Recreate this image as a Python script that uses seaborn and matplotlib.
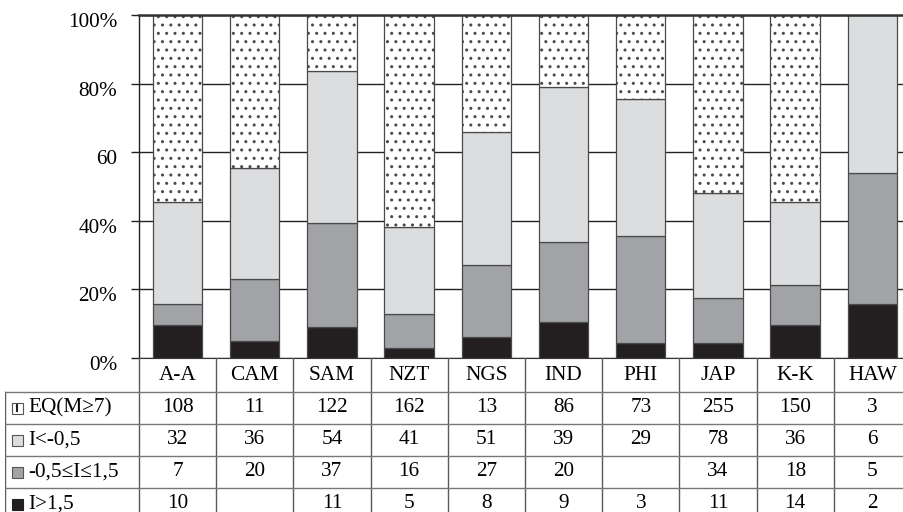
import matplotlib
matplotlib.use("Agg")
import matplotlib.pyplot as plt
import matplotlib.transforms as mtransforms
from matplotlib.patches import Rectangle
from matplotlib.lines import Line2D
import seaborn as sns

# categories and series (bar heights in %)
cats = ['A-A', 'CAM', 'SAM', 'NZT', 'NGS', 'IND', 'PHI', 'JAP', 'K-K', 'HAW']
pct_hi = [9.5, 5.1, 9.0, 3.0, 6.0, 10.4, 4.4, 4.4, 9.5, 15.6]       # I>1,5
pct_mid = [6.3, 18.0, 30.4, 9.8, 21.0, 23.5, 31.1, 13.1, 11.9, 38.2]  # -0,5<=I<=1,5
pct_lo = [29.6, 32.2, 44.3, 25.4, 39.0, 45.0, 40.0, 30.6, 24.0, 46.2]  # I<-0,5
pct_eq = [54.6, 44.7, 16.3, 61.8, 34.0, 21.1, 24.5, 51.9, 54.6, 0.0]   # EQ

# table counts
row_labels = ['EQ(M\u22657)', 'I<-0,5', '-0,5\u2264I\u22641,5', 'I>1,5']
n_eq = ['108', '11', '122', '162', '13', '86', '73', '255', '150', '3']
n_lo = ['32', '36', '54', '41', '51', '39', '29', '78', '36', '6']
n_mid = ['7', '20', '37', '16', '27', '20', '', '34', '18', '5']
n_hi = ['10', '', '11', '5', '8', '9', '3', '11', '14', '2']
yticks = [0, 20, 40, 60, 80, 100]
ytick_labels = ['0%', '20%', '40%', '60', '80%', '100%']

plt.rcParams['font.family'] = ['Liberation Serif', 'DejaVu Serif']
plt.rcParams['hatch.linewidth'] = 1.0
FS = 15.3

W, H = 904, 512
fig = plt.figure(figsize=(W / 100, H / 100), dpi=100)

# ---- bar chart ----
ax_l, ax_r, ax_t, ax_b = 138.9, 911.0, 15.0, 358.0
ax = fig.add_axes([ax_l / W, (H - ax_b) / H, (ax_r - ax_l) / W, (ax_b - ax_t) / H])

c_hi, c_mid, c_lo = '#231f20', '#a2a3a6', '#dcdddf'
edge = '#4a4a4a'
bottom = [0.0] * len(cats)
for vals, col, hatch in [(pct_hi, c_hi, None), (pct_mid, c_mid, None),
                         (pct_lo, c_lo, None), (pct_eq, 'white', '..')]:
    sns.barplot(x=cats, y=vals, bottom=bottom, color=col, saturation=1,
                width=0.64, edgecolor=edge, linewidth=0.9, hatch=hatch, ax=ax)
    bottom = [b + v for b, v in zip(bottom, vals)]

ax.set_xlim(-0.5, len(cats) - 0.5)
ax.set_ylim(0, 100)
ax.set_yticks(yticks)
ax.set_yticklabels(ytick_labels, fontsize=FS)
ax.set_xlabel('')
ax.set_ylabel('')
ax.tick_params(axis='x', bottom=False, labelbottom=False)
ax.tick_params(axis='y', length=6, width=1, color='#222', pad=9.5)
shift = mtransforms.ScaledTranslation(0, -5 / 100, fig.dpi_scale_trans)
for lab in ax.get_yticklabels():
    lab.set_transform(lab.get_transform() + shift)
ax.set_axisbelow(True)
ax.yaxis.grid(True, color='#222', linewidth=1)
ax.xaxis.grid(False)
ax.spines['right'].set_visible(False)
ax.spines['left'].set_color('#222')
ax.spines['bottom'].set_color('#333')
ax.spines['top'].set_color('#333')
ax.spines['top'].set_linewidth(1.8)
ax.spines['left'].set_linewidth(1.0)

# ---- data table ----
unit = (ax_r - ax_l) / len(cats)
t_left, t_right, t_top, t_bot = 5.0, 911.0, 358.0, 520.0
tax = fig.add_axes([t_left / W, (H - t_bot) / H, (t_right - t_left) / W, (t_bot - t_top) / H])
tax.set_xlim(-0.5 - (ax_l - t_left) / unit, len(cats) - 0.5)
tax.set_ylim(t_bot, t_top)
tax.axis('off')

rows_y = [358, 392, 424, 456, 488, 520]
line_col = '#5a5a5a'
x0 = -0.5 - (ax_l - t_left) / unit
for k in range(len(cats) + 1):
    tax.plot([k - 0.5, k - 0.5], [rows_y[0], rows_y[-1]], color=line_col, lw=1)
tax.plot([x0, x0], [rows_y[1], rows_y[-1]], color=line_col, lw=1)
for y in rows_y[1:-1]:
    tax.plot([x0, len(cats) - 0.5], [y, y], color='#777', lw=1)

for i, c in enumerate(cats):
    tax.text(i, (rows_y[0] + rows_y[1]) / 2 + 1, c, ha='center', va='center', fontsize=FS)

for r, vals in enumerate([n_eq, n_lo, n_mid, n_hi]):
    yc = (rows_y[r + 1] + rows_y[r + 2]) / 2
    for i, v in enumerate(vals):
        tax.text(i, yc, v, ha='center', va='center', fontsize=FS)
    tax.text(x0 + 23 / unit, yc, row_labels[r], ha='left', va='center', fontsize=FS)

# legend swatches in the row label column
sw_cols = ['white', c_lo, c_mid, c_hi]
for r, col in enumerate(sw_cols):
    yc = (rows_y[r + 1] + rows_y[r + 2]) / 2
    rect = Rectangle((12 / W, (H - yc - 5.5) / H), 11 / W, 11 / H,
                     transform=fig.transFigure, facecolor=col,
                     edgecolor='#555' if r < 3 else c_hi, lw=0.8)
    fig.add_artist(rect)
    if r == 0:
        for dy in (2.0, -2.0):
            fig.add_artist(Line2D([17.5 / W, 17.5 / W], [(H - yc + dy + 0.6) / H, (H - yc + dy - 0.6) / H],
                                  transform=fig.transFigure, color='#222', lw=1.5))

fig.savefig('out.png', dpi=100)
